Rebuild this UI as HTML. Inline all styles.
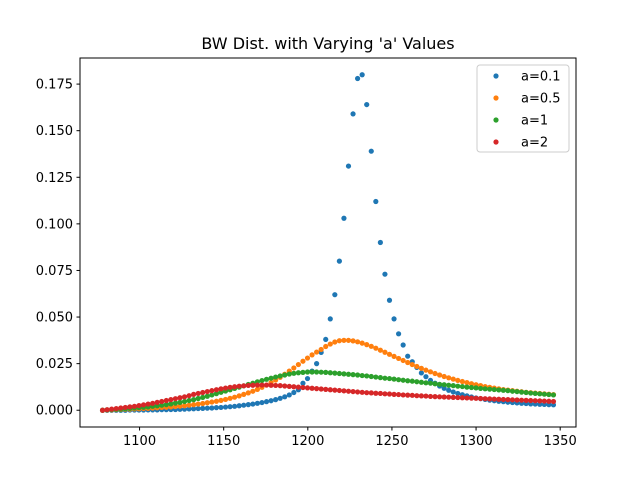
<!DOCTYPE html>
<html><head><meta charset="utf-8"><style>
body{margin:0;background:#fff}
svg text{font-family:"DejaVu Sans","Liberation Sans",sans-serif;fill:#000}
</style></head><body>
<svg id="chart" width="640" height="480" xmlns="http://www.w3.org/2000/svg">
<rect width="640" height="480" fill="#fff"/>
<text x="328" y="49" font-size="16" text-anchor="middle">BW Dist. with Varying 'a' Values</text>
<g id="marks"></g>
<g id="axes"></g>
<rect x="80" y="58" width="496" height="369" fill="none" stroke="#000" stroke-width="1"/>
<g id="legend"></g>
</svg>
<script>
const xStart = 1078, xEnd = 1346;
const xTicks = [1100, 1150, 1200, 1250, 1300, 1350];
const yTicks = [0, 0.025, 0.05, 0.075, 0.1, 0.125, 0.15, 0.175];
const yTickLabels = ["0.000","0.025","0.050","0.075","0.100","0.125","0.150","0.175"];
const seriesNames = ["a=0.1","a=0.5","a=1","a=2"];
const seriesColors = ["#1f77b4","#ff7f0e","#2ca02c","#d62728"];
const blue = [0,0,0,0,0,0,0.0001,0.0001,0.0001,0.0001,
0.0002,0.0002,0.0002,0.0003,0.0003,0.0004,0.0004,0.0005,0.0006,0.0007,
0.0008,0.0009,0.001,0.0011,0.0012,0.0014,0.0015,0.0017,0.0019,0.0021,
0.0024,0.0027,0.003,0.0033,0.0037,0.0041,0.0046,0.0051,0.0057,0.0064,
0.0072,0.0082,0.0095,0.011,0.0145,0.017,0.021,0.025,0.031,0.038,
0.049,0.062,0.080,0.103,0.131,0.159,0.178,0.180,0.164,0.139,
0.112,0.090,0.073,0.059,0.049,0.041,0.035,0.029,0.026,0.023,
0.020,0.018,0.016,0.0145,0.013,0.0118,0.0107,0.0098,0.009,0.0083,
0.0077,0.0071,0.0066,0.0062,0.0058,0.0054,0.0051,0.0048,0.0046,0.0043,
0.0041,0.0039,0.0037,0.0036,0.0034,0.0033,0.0032,0.0031,0.0030,0.0029];
const orange = [0,0.0001,0.0002,0.0003,0.0004,0.0005,0.0006,0.0007,0.0008,0.0009,
0.001,0.0012,0.0013,0.0015,0.0016,0.0018,0.002,0.0022,0.0024,0.0027,
0.003,0.0033,0.0036,0.004,0.0044,0.0048,0.0053,0.0058,0.0064,0.007,
0.0077,0.0085,0.0093,0.0102,0.0112,0.0123,0.0135,0.0148,0.0162,0.0177,
0.0193,0.021,0.0227,0.0245,0.0263,0.028,0.0297,0.0312,0.0326,0.0342,
0.0355,0.0366,0.0373,0.0375,0.0375,0.0372,0.0367,0.036,0.0352,0.0343,
0.0333,0.0322,0.0311,0.03,0.0289,0.0278,0.0267,0.0256,0.0245,0.0235,
0.0225,0.0215,0.0206,0.0197,0.0189,0.0181,0.0174,0.0167,0.016,0.0154,
0.0148,0.0142,0.0137,0.0132,0.0127,0.0123,0.0119,0.0115,0.0111,0.0108,
0.0105,0.0102,0.0099,0.0096,0.0094,0.0092,0.009,0.0088,0.0086,0.0084];
const green = [0,0.0002,0.0003,0.0005,0.0006,0.0008,0.001,0.0012,0.0014,0.0016,
0.0018,0.0021,0.0024,0.0027,0.003,0.0034,0.0038,0.0042,0.0047,0.0052,
0.0057,0.0063,0.0069,0.0075,0.0082,0.0089,0.0096,0.0103,0.011,0.0117,
0.0124,0.0131,0.0138,0.0145,0.0152,0.0159,0.0166,0.0172,0.0178,0.0184,
0.0189,0.0194,0.0198,0.0201,0.0203,0.0205,0.0205,0.0205,0.0204,0.0203,
0.0201,0.0199,0.0197,0.0195,0.0193,0.0191,0.0189,0.0186,0.0184,0.0181,
0.0178,0.0175,0.0172,0.017,0.0167,0.0164,0.0161,0.0158,0.0156,0.0153,
0.015,0.0147,0.0145,0.0142,0.0139,0.0137,0.0134,0.0132,0.0129,0.0127,
0.0124,0.0122,0.012,0.0117,0.0115,0.0113,0.0111,0.0109,0.0107,0.0105,
0.0102,0.01,0.0097,0.0095,0.0092,0.009,0.0088,0.0086,0.0084,0.0082];
const red = [0,0.0003,0.0006,0.0009,0.0012,0.0015,0.0018,0.0021,0.0025,0.0029,
0.0033,0.0037,0.0042,0.0047,0.0052,0.0057,0.0062,0.0067,0.0072,0.0078,
0.0085,0.009,0.0095,0.01,0.0105,0.011,0.0115,0.0119,0.0123,0.0126,
0.0129,0.0131,0.0133,0.0134,0.0135,0.0135,0.0135,0.0134,0.0133,0.0132,
0.013,0.0128,0.0126,0.0124,0.0122,0.012,0.0118,0.0116,0.0114,0.0112,
0.011,0.0108,0.0106,0.0104,0.0102,0.01,0.0098,0.0096,0.0094,0.0093,
0.0091,0.009,0.0088,0.0087,0.0085,0.0084,0.0082,0.0081,0.008,0.0078,
0.0077,0.0076,0.0074,0.0073,0.0072,0.0071,0.007,0.0069,0.0068,0.0067,
0.0066,0.0065,0.0064,0.0063,0.0062,0.0061,0.006,0.0059,0.0058,0.0057,
0.0056,0.0055,0.0054,0.0053,0.0052,0.0051,0.005,0.0049,0.0048,0.0047];

const NS = "http://www.w3.org/2000/svg";
const L = 80, R = 576, T = 58, B = 427;
const allSeries = [blue, orange, green, red];
let maxV = 0;
allSeries.forEach(s => s.forEach(v => { if (v > maxV) maxV = v; }));
const xSpan = xEnd - xStart;
const xMin = xStart - 0.05 * xSpan, xMax = xEnd + 0.05 * xSpan;
const yMin = -0.05 * maxV, yMax = maxV * 1.05;
function xs(v){ return L + (v - xMin) / (xMax - xMin) * (R - L); }
function ys(v){ return B - (v - yMin) / (yMax - yMin) * (B - T); }
function mk(tag, attrs){ const e = document.createElementNS(NS, tag); for (const k in attrs) e.setAttribute(k, attrs[k]); return e; }

const axes = document.getElementById('axes');
xTicks.forEach(t => {
  const x = xs(t);
  const ln = mk('line', {x1:x, x2:x, y1:B, y2:B+3.5, stroke:'#000'});
  
  
  axes.appendChild(ln);
  const tx = mk('text', {x:x, y:B+18, 'font-size':13, 'text-anchor':'middle'});
  
  
  tx.textContent = t;
  axes.appendChild(tx);
});
yTicks.forEach((t, i) => {
  const y = ys(t);
  const ln = mk('line', {x1:L-3.5, x2:L, y1:y, y2:y, stroke:'#000'});
  
  
  axes.appendChild(ln);
  const tx = mk('text', {x:L-7, y:y+4.5, 'font-size':13, 'text-anchor':'end'});
  
  
  tx.textContent = yTickLabels[i];
  axes.appendChild(tx);
});

const marks = document.getElementById('marks');
allSeries.forEach((s, si) => {
  const g = mk('g', {fill: seriesColors[si]});
  
  
  const n = s.length;
  s.forEach((v, i) => {
    const xv = xStart + i * (xEnd - xStart) / (n - 1);
    const c = mk('circle', {cx: xs(xv), cy: ys(v), r: 2.6});
    
    
    g.appendChild(c);
  });
  marks.appendChild(g);
});

const leg = document.getElementById('legend');
const box = mk('rect', {x:477, y:65, width:92, height:87, rx:3, fill:'#fff', 'fill-opacity':0.8, stroke:'#ccc'});


leg.appendChild(box);
seriesNames.forEach((nm, i) => {
  const y = 76 + i * 22;
  const c = mk('circle', {cx:496, cy:y, r:2.6, fill:seriesColors[i]});
  
  
  leg.appendChild(c);
  const t = mk('text', {x:521, y:y+4.5, 'font-size':13});
  
  
  t.textContent = nm;
  leg.appendChild(t);
});
</script>
</body></html>
